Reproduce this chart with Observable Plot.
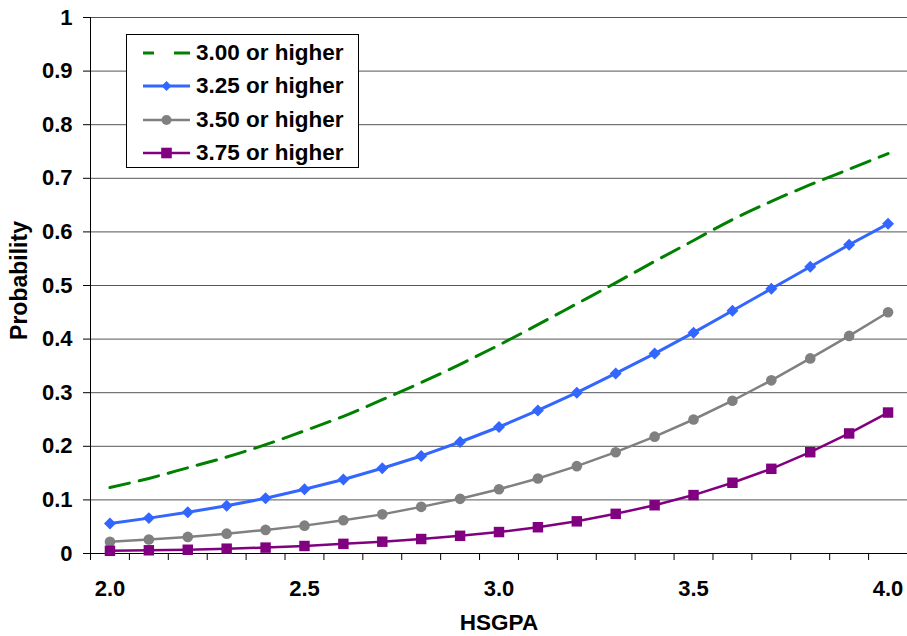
<!DOCTYPE html>
<html>
<head>
<meta charset="utf-8">
<script src="https://cdn.jsdelivr.net/npm/d3@7"></script>
<script src="https://cdn.jsdelivr.net/npm/@observablehq/plot@0.6"></script>
<style>
  html, body { margin: 0; padding: 0; background: #fff; }
  #wrap { position: relative; width: 907px; height: 636px; font-family: "Liberation Sans", Arial, sans-serif; font-weight: bold; }
  #legend { position: absolute; left: 126px; top: 34px; width: 233px; height: 134px; box-sizing: border-box; border: 1px solid #000; background: #fff; }
  .row { position: absolute; left: 0; height: 34px; width: 100%; }
  .row svg { position: absolute; left: 15px; top: 0; }
  .row span { position: absolute; left: 69px; top: 0; line-height: 34px; font-size: 22.5px; color: #000; white-space: nowrap; }
</style>
</head>
<body>
<div id="wrap"><div id="chart"></div><div id="legend"></div></div>
<script>
// ---- data ----
const gpa = [2.0, 2.1, 2.2, 2.3, 2.4, 2.5, 2.6, 2.7, 2.8, 2.9, 3.0, 3.1, 3.2, 3.3, 3.4, 3.5, 3.6, 3.7, 3.8, 3.9, 4.0];
const p300 = [0.123, 0.140, 0.160, 0.180, 0.203, 0.229, 0.256, 0.287, 0.319, 0.353, 0.389, 0.427, 0.466, 0.505, 0.545, 0.584, 0.623, 0.657, 0.688, 0.717, 0.746];
const p325 = [0.056, 0.066, 0.077, 0.089, 0.103, 0.120, 0.138, 0.159, 0.182, 0.208, 0.236, 0.267, 0.300, 0.336, 0.373, 0.412, 0.453, 0.494, 0.535, 0.576, 0.615];
const p350 = [0.022, 0.026, 0.031, 0.037, 0.044, 0.052, 0.062, 0.073, 0.087, 0.102, 0.120, 0.140, 0.163, 0.189, 0.218, 0.250, 0.285, 0.323, 0.364, 0.406, 0.450];
const p375 = [0.005, 0.006, 0.007, 0.009, 0.011, 0.014, 0.018, 0.022, 0.027, 0.033, 0.040, 0.049, 0.060, 0.074, 0.090, 0.109, 0.132, 0.158, 0.189, 0.224, 0.263];
const seriesNames = ["3.00 or higher", "3.25 or higher", "3.50 or higher", "3.75 or higher"];
const yTicks = [0, 0.1, 0.2, 0.3, 0.4, 0.5, 0.6, 0.7, 0.8, 0.9, 1];
const xTickLabels = [2.0, 2.5, 3.0, 3.5, 4.0];
const xTitle = "HSGPA";
const yTitle = "Probability";

const colors = ["#008000", "#3366ff", "#808080", "#800080"];
const rows = v => gpa.map((g, i) => ({gpa: g, p: v[i]}));
const half = 0.05; // half category width
const xDomain = [gpa[0] - half, gpa[gpa.length - 1] + half];
const boundaries = gpa.map(g => g - half).concat([gpa[gpa.length - 1] + half]);

const chart = Plot.plot({
  width: 907,
  height: 636,
  marginLeft: 90,
  marginRight: 0,
  marginTop: 17,
  marginBottom: 83,
  style: {fontFamily: '"Liberation Sans", Arial, sans-serif', fontWeight: "bold", fontSize: "22px", background: "#fff", overflow: "visible"},
  x: {domain: xDomain, label: null},
  y: {domain: [0, 1], label: null},
  marks: [
    Plot.ruleY(yTicks, {stroke: "#555", strokeWidth: 1}),
    Plot.axisY(yTicks, {tickSize: 7, tickPadding: 11, tickFormat: d => String(d), label: null, fontSize: 22}),
    Plot.axisX(boundaries, {tickSize: 7, tickFormat: () => "", label: null}),
    Plot.axisX(xTickLabels, {tickSize: 0, tickPadding: 27, tickFormat: d => d.toFixed(1), label: null, fontSize: 22}),
    Plot.ruleX([xDomain[0]], {stroke: "#000", strokeWidth: 1}),
    Plot.ruleY([0], {stroke: "#000", strokeWidth: 1}),
    Plot.line(rows(p300), {x: "gpa", y: "p", stroke: colors[0], strokeWidth: 3, strokeDasharray: "20,10", curve: "catmull-rom"}),
    Plot.line(rows(p325), {x: "gpa", y: "p", stroke: colors[1], strokeWidth: 3}),
    Plot.dot(rows(p325), {x: "gpa", y: "p", symbol: "diamond2", r: 5.4, fill: colors[1], stroke: "none"}),
    Plot.line(rows(p350), {x: "gpa", y: "p", stroke: colors[2], strokeWidth: 2.5}),
    Plot.dot(rows(p350), {x: "gpa", y: "p", symbol: "circle", r: 5.3, fill: colors[2], stroke: "none"}),
    Plot.line(rows(p375), {x: "gpa", y: "p", stroke: colors[3], strokeWidth: 2.5}),
    Plot.dot(rows(p375), {x: "gpa", y: "p", symbol: "square", r: 5.9, fill: colors[3], stroke: "none"}),
    Plot.text([xTitle], {frameAnchor: "bottom", lineAnchor: "middle", dy: 69, fontSize: 22.5, fontWeight: "bold"}),
    Plot.text([yTitle], {frameAnchor: "left", textAnchor: "middle", lineAnchor: "middle", dx: -71, dy: -5, rotate: -90, fontSize: 23, fontWeight: "bold"})
  ]
});
document.getElementById("chart").appendChild(chart);

// ---- legend ----
const legend = document.getElementById("legend");
const rowTops = [0.5, 34, 67.5, 101];
const symbols = [
  '<line x1="1" y1="17" x2="48" y2="17" stroke="' + colors[0] + '" stroke-width="3" stroke-dasharray="11,20,16"/>',
  '<line x1="1" y1="17" x2="48" y2="17" stroke="' + colors[1] + '" stroke-width="3"/><path d="M24.5,12 L29.5,17 L24.5,22 L19.5,17 Z" fill="' + colors[1] + '"/>',
  '<line x1="1" y1="17" x2="48" y2="17" stroke="' + colors[2] + '" stroke-width="2.5"/><circle cx="24.5" cy="17" r="5" fill="' + colors[2] + '"/>',
  '<line x1="1" y1="17" x2="48" y2="17" stroke="' + colors[3] + '" stroke-width="2.5"/><rect x="19.2" y="11.7" width="10.6" height="10.6" fill="' + colors[3] + '"/>'
];
seriesNames.forEach((name, i) => {
  const r = document.createElement("div");
  r.className = "row";
  r.style.top = rowTops[i] + "px";
  r.innerHTML = '<svg width="50" height="34">' + symbols[i] + '</svg><span>' + name + '</span>';
  legend.appendChild(r);
});
</script>
</body>
</html>
